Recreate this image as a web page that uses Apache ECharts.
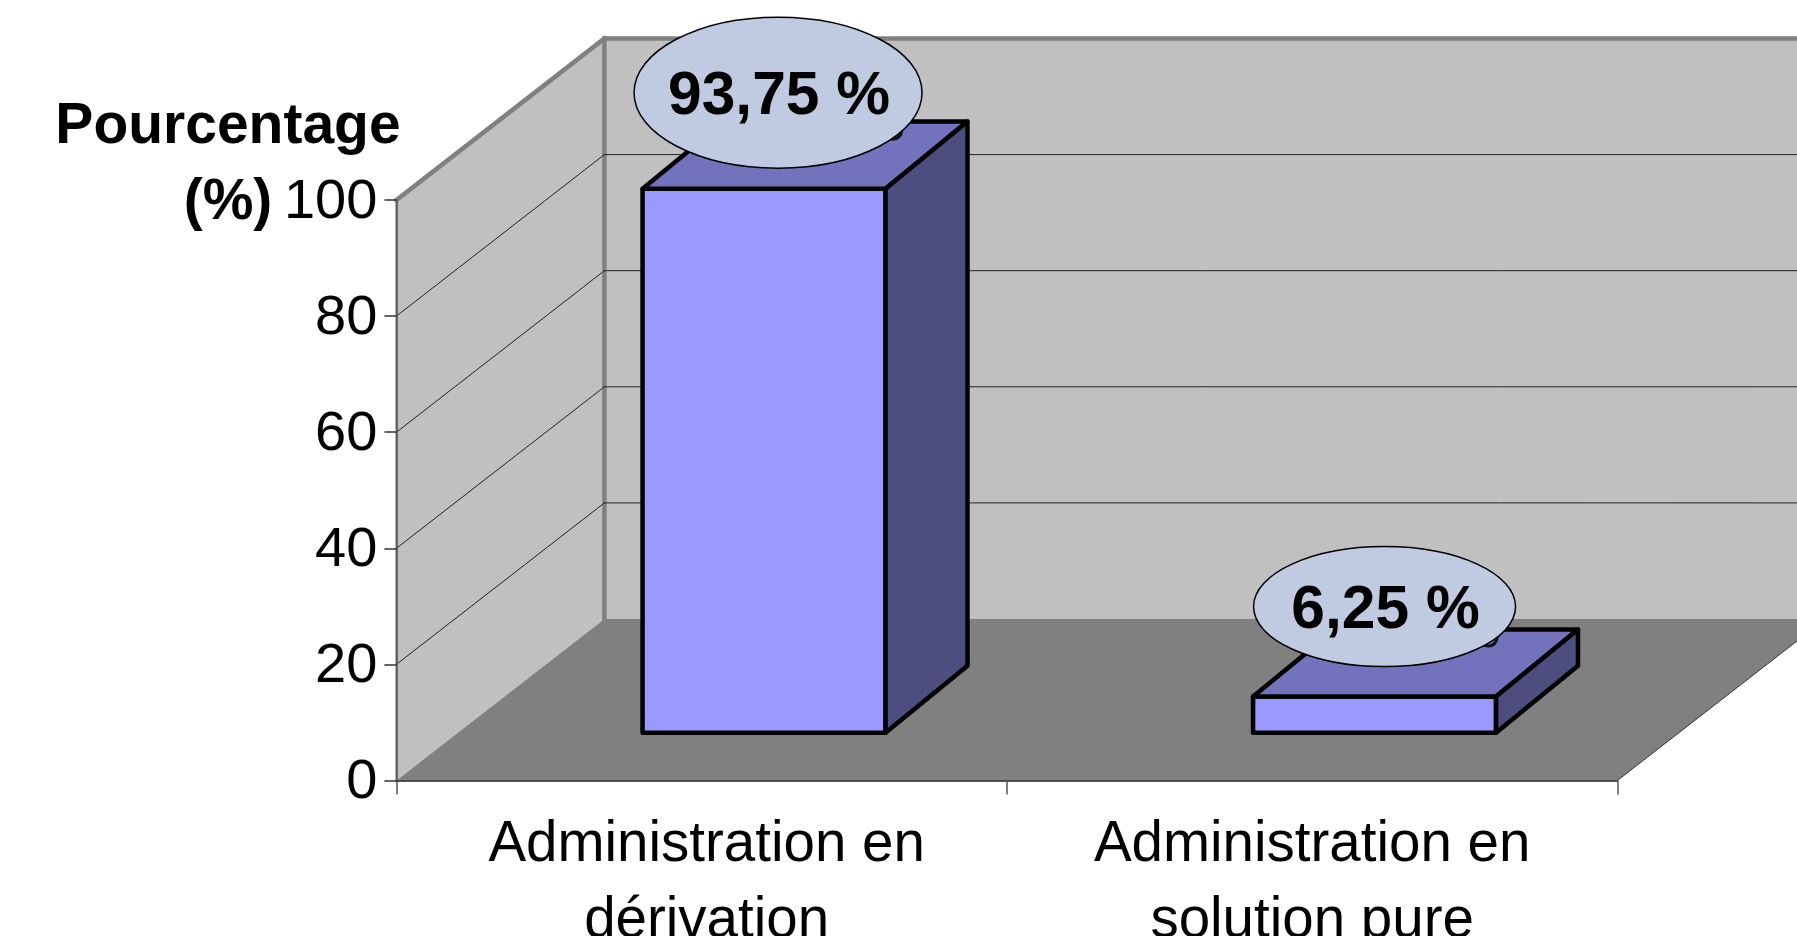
<!DOCTYPE html>
<html>
<head>
<meta charset="utf-8">
<style>html,body{margin:0;padding:0;background:#fff;overflow:hidden}#c{width:1797px;height:936px}</style>
<script src="https://cdn.jsdelivr.net/npm/echarts@6/dist/echarts.min.js"></script>
</head>
<body>
<div id="c"></div>
<script>
const categories = ['Administration en\ndérivation', 'Administration en\nsolution pure'];
const values = [93.75, 6.25];
const valueLabels = ['93,75 %', '6,25 %'];
const gridTicks = [20, 40, 60, 80];
const axisTitle = 'Pourcentage\n(%)';

// 3D look (styling only)
const FONT = '"Liberation Sans", Arial, sans-serif';
const DEPTH = {x: 208, y: 161.5};
const BAR = {frontX: 0.30, frontY: 0.295, backX: 0.694, backY: 0.71, width: 0.398};
const BUBBLES = [
  {dx: 14, dy: -96, rx: 144, ry: 75.5, ringX: 115, ringY: 38},
  {dx: 10, dy: -90, rx: 131, ry: 60, ringX: 104, ringY: 31}
];
const LABEL_SHIFT = [10, 0];
const C = {wall:'#C0C0C0', floor:'#808080', edge:'#808080', grid:'#222222',
           front:'#9999FF', top:'#7272BD', side:'#4D4D80', bubble:'#C0CAE0'};

function poly(points, fill, stroke, lw) {
  return {type:'polygon', shape:{points}, style:{fill, stroke: stroke||null, lineWidth: lw||0, lineJoin:'round'}};
}
function line(x1,y1,x2,y2,stroke,lw){
  return {type:'line', shape:{x1,y1,x2,y2}, style:{stroke, lineWidth:lw, lineCap:'square'}};
}

function renderWalls(params, api) {
  const g = params.coordSys;
  const x0 = g.x, x1 = g.x + g.width, y0 = g.y + g.height, yT = g.y;
  const dx = DEPTH.x, dy = DEPTH.y;
  return {type:'group', children:[
    poly([[x0+dx,yT-dy],[x1+dx,yT-dy],[x1+dx,y0-dy],[x0+dx,y0-dy]], C.wall),
    poly([[x0,yT],[x0+dx,yT-dy],[x0+dx,y0-dy],[x0,y0]], C.wall),
    poly([[x0,y0],[x1,y0],[x1+dx,y0-dy],[x0+dx,y0-dy]], C.floor),
    line(x1,y0,x1+dx,y0-dy,'#333333',1),
    line(x0,yT,x0+dx,yT-dy,C.edge,4.5),
    line(x0+dx,yT-dy,x1+dx,yT-dy,C.edge,4.5),
    line(x0+dx,yT-dy,x0+dx,y0-dy,C.edge,4.5),
    line(x0,yT,x0,y0,C.edge,2)
  ]};
}
function renderGrid(params, api) {
  const g = params.coordSys;
  const y = api.coord([0, api.value(0)])[1];
  const x0 = g.x, x1 = g.x + g.width;
  return {type:'group', children:[
    line(x0,y,x0+DEPTH.x,y-DEPTH.y,C.grid,1),
    line(x0+DEPTH.x,y-DEPTH.y,x1+DEPTH.x,y-DEPTH.y,C.grid,1)
  ]};
}
function barGeom(api, i, v) {
  const base = api.coord([i, 0]);
  const top = api.coord([i, v]);
  const w = api.size([1, 0])[0] * BAR.width;
  const fx = DEPTH.x * BAR.frontX, fy = DEPTH.y * BAR.frontY;
  const bx = DEPTH.x * BAR.backX,  by = DEPTH.y * BAR.backY;
  const l = base[0] + fx - w/2, r = base[0] + fx + w/2;
  return {l, r, yb: base[1]-fy, yt: top[1]-fy, ox: bx-fx, oy: by-fy, cx: base[0]+fx};
}
function renderBar(params, api) {
  const i = api.value(0), v = api.value(1);
  const b = barGeom(api, i, v);
  return {type:'group', children:[
    poly([[b.l,b.yb],[b.r,b.yb],[b.r,b.yt],[b.l,b.yt]], C.front, '#000', 4.5),
    poly([[b.l,b.yt],[b.r,b.yt],[b.r+b.ox,b.yt-b.oy],[b.l+b.ox,b.yt-b.oy]], C.top, '#000', 4.5),
    poly([[b.r,b.yb],[b.r+b.ox,b.yb-b.oy],[b.r+b.ox,b.yt-b.oy],[b.r,b.yt]], C.side, '#000', 4.5)
  ]};
}
function renderBubble(params, api) {
  const i = api.value(0), v = api.value(1);
  const b = barGeom(api, i, v);
  const s = BUBBLES[i];
  const cx = b.cx + s.dx, cy = b.yt + s.dy;
  return {type:'group', children:[
    {type:'circle', shape:{cx:cx+s.ringX, cy:cy+s.ringY, r:8.5}, style:{fill:C.top, stroke:'#111', lineWidth:3}},
    {type:'ellipse', shape:{cx, cy, rx:s.rx, ry:s.ry}, style:{fill:C.bubble, stroke:'#000', lineWidth:1.5}},
    {type:'text', x:cx+1, y:cy+5, style:{text:valueLabels[i], fill:'#000', font:'bold 60.5px '+FONT, align:'center', verticalAlign:'middle'}}
  ]};
}

const chart = echarts.init(document.getElementById('c'), null, {renderer:'canvas'});
chart.setOption({
  animation:false,
  backgroundColor:'#fff',
  tooltip:{show:false},
  title:{
    text:axisTitle, left:223, top:84, textAlign:'center',
    textStyle:{color:'#000', fontFamily:FONT, fontWeight:'bold', fontSize:57, lineHeight:76}
  },
  grid:{left:396.4, right:179.6, top:200, bottom:155.5, containLabel:false, outerBoundsMode:'none'},
  xAxis:{
    type:'category',
    data:categories.map((value,i)=>({value, textStyle:{padding:[0,0,0,LABEL_SHIFT[i]]}})),
    boundaryGap:true, z:5,
    axisLine:{show:true, lineStyle:{color:'#222', width:1.5}},
    axisTick:{show:true, alignWithLabel:false, length:14, lineStyle:{color:'#555', width:1.5}},
    axisLabel:{interval:0, margin:27, color:'#000', fontFamily:FONT, fontSize:56.5, lineHeight:76, hideOverlap:false}
  },
  yAxis:{
    type:'value', min:0, max:100, interval:20, z:5,
    axisLine:{show:true, lineStyle:{color:'#555', width:1.5}},
    axisTick:{show:true, length:12, lineStyle:{color:'#333', width:1.5}},
    axisLabel:{margin:19, color:'#000', fontFamily:FONT, fontSize:56, verticalAlign:'top', lineHeight:5},
    splitLine:{show:false}
  },
  series:[
    {type:'custom', z:1, renderItem:renderWalls, data:[[0,100]], encode:{x:0,y:1}, silent:true},
    {type:'custom', z:2, renderItem:(p,a)=>renderGrid(p,a), data:gridTicks.map(v=>[v]), dimensions:['v'], encode:{y:0}, silent:true},
    {type:'custom', z:3, renderItem:renderBar, data:values.map((v,i)=>[i,v]), encode:{x:0,y:1}, silent:true},
    {type:'custom', z:4, renderItem:renderBubble, data:values.map((v,i)=>[i,v]), encode:{x:0,y:1}, silent:true}
  ]
});
</script>
</body>
</html>
